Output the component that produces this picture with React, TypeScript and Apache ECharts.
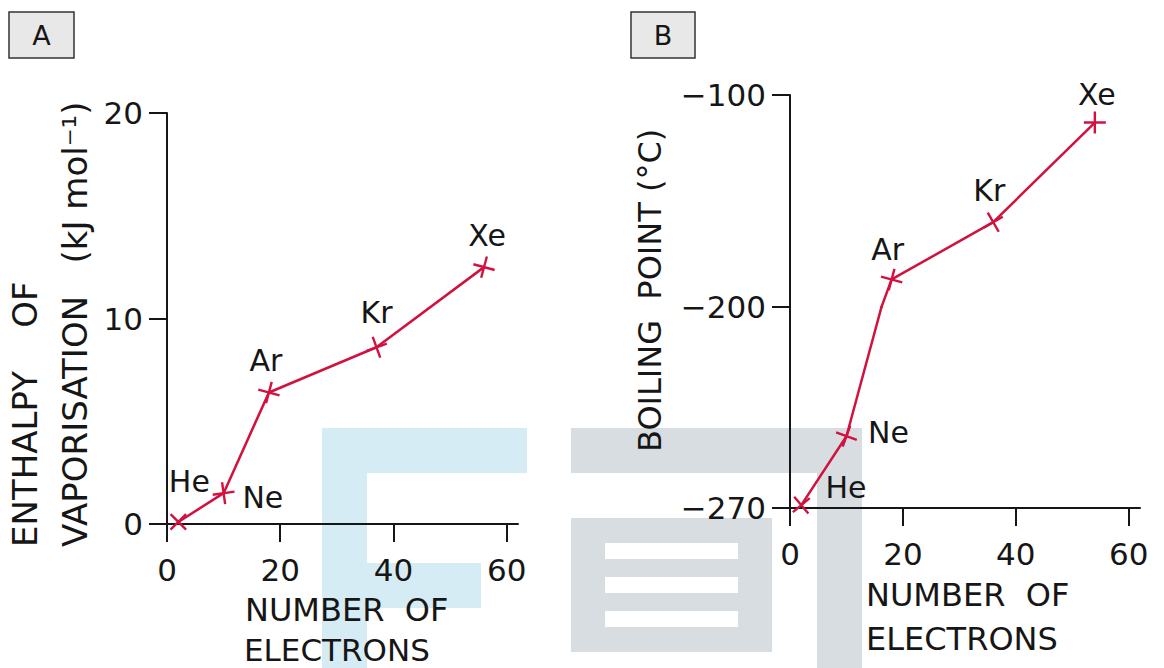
import React, { useEffect, useRef } from "react";
import * as echarts from "echarts";

// ---- data ----
const elements = ["He", "Ne", "Ar", "Kr", "Xe"];
const electronsA = [2, 10, 18, 37, 56];
const enthalpyA = [0.1, 1.5, 6.4, 8.6, 12.5];
const electronsB = [2, 10, 18, 36, 54];
const boilingB = [-269, -245, -187, -160, -113];
const xTicks = [0, 20, 40, 60];
const enthalpyTicks = [0, 10, 20];
const boilingTicksUpper = [-200, -100];
const boilingTicksLower = [-270];

// ---- styling config ----
const RED = "#d1123f";
const INK = "#161616";
const FONT = '"DejaVu Sans", sans-serif';
const labelPosA = ["top", "right", "top", "top", "top"];
const labelOffA = [[11, -3], [0, 4], [-3, 3], [0, 1], [3, 3]];
const rotA = [45, 8, -15, 20, -15];
const labelPosB = ["right", "right", "top", "top", "top"];
const labelOffB = [[2, -18], [1, -4], [-4, 5], [-4, 5], [2, 4]];
const rotB = [40, -20, -15, 30, 0];
const CROSS = "path://M0,10L20,10M10,0L10,20";

function buildData(xs: number[], ys: number[], pos: string[], off: number[][], rot: number[]) {
  return xs.map((x, i) => ({
    name: elements[i],
    value: [x, ys[i]],
    symbolRotate: rot[i],
    label: { position: pos[i], offset: off[i] },
  }));
}

const minusFmt = (v: number) => (v < 0 ? "\u2212" + Math.abs(v) : String(v));

function xAxisCfg(gridIndex: number, show: boolean) {
  return {
    type: "value",
    gridIndex,
    show,
    min: 0,
    max: 62,
    interval: 20,
    axisLine: { show: true, onZero: false, lineStyle: { color: INK, width: 2 } },
    axisTick: { show: true, customValues: xTicks, length: 18, lineStyle: { color: INK, width: 2 } },
    axisLabel: { customValues: xTicks, fontSize: 31, fontFamily: FONT, color: INK, margin: 30 },
    splitLine: { show: false },
  };
}

function yAxisCfg(gridIndex: number, min: number, max: number, ticks: number[]) {
  return {
    type: "value",
    gridIndex,
    min,
    max,
    axisLine: { show: true, onZero: false, lineStyle: { color: INK, width: 2 } },
    axisTick: { show: true, customValues: ticks, length: 18, lineStyle: { color: INK, width: 2 } },
    axisLabel: { customValues: ticks, fontSize: 31, fontFamily: FONT, color: INK, margin: 24, formatter: minusFmt },
    splitLine: { show: false },
  };
}

function seriesCfg(xi: number, yi: number, data: any[], clip: boolean) {
  return {
    type: "line",
    xAxisIndex: xi,
    yAxisIndex: yi,
    data,
    clip,
    symbol: CROSS,
    symbolSize: 22,
    lineStyle: { color: RED, width: 2.5 },
    itemStyle: { color: RED, borderColor: RED, borderWidth: 2.4 },
    label: {
      show: true,
      formatter: (p: any) => p.name,
      fontSize: 30,
      fontFamily: FONT,
      color: INK,
    },
    emphasis: { disabled: true },
  };
}

function txt(text: string, x: number, y: number, size: number, align: string, rotated: boolean) {
  return {
    type: "text",
    x,
    y,
    rotation: rotated ? Math.PI / 2 : 0,
    silent: true,
    style: {
      text,
      fill: INK,
      fontSize: size,
      fontFamily: FONT,
      align,
      verticalAlign: "middle",
      lineHeight: 24,
    },
  };
}

const BLUE_WM = "#d6ecf5";
const GREY_WM = "#d8dde2";
const wm = (x: number, y: number, w: number, h: number, fill: string) => ({
  type: "rect",
  silent: true,
  z: -10,
  shape: { x, y, width: w, height: h },
  style: { fill },
});

export default function App() {
  const ref = useRef<HTMLDivElement>(null);
  useEffect(() => {
    const chart = echarts.init(ref.current!, null, { renderer: "svg" });
    const option: any = {
      animation: false,
      backgroundColor: "#ffffff",
      grid: [
        { left: 167, top: 113, width: 351, height: 411, outerBoundsMode: "none", containLabel: false },
        { left: 790, top: 95, width: 350, height: 212, outerBoundsMode: "none", containLabel: false },
        { left: 790, top: 307, width: 350, height: 201, outerBoundsMode: "none", containLabel: false },
      ],
      xAxis: [xAxisCfg(0, true), xAxisCfg(1, false), xAxisCfg(2, true)],
      yAxis: [
        { ...yAxisCfg(0, 0, 20, enthalpyTicks), interval: 10 },
        { ...yAxisCfg(1, -200, -100, boilingTicksUpper), interval: 100 },
        yAxisCfg(2, -270, -200, boilingTicksLower),
      ],
      series: [
        seriesCfg(0, 0, buildData(electronsA, enthalpyA, labelPosA, labelOffA, rotA), false),
        seriesCfg(1, 1, buildData(electronsB, boilingB, labelPosB, labelOffB, rotB), true),
        seriesCfg(2, 2, buildData(electronsB, boilingB, labelPosB, labelOffB, rotB), true),
      ],
      graphic: {
        elements: [
          // watermark
          wm(322, 428, 45, 240, BLUE_WM),
          wm(322, 428, 205, 45, BLUE_WM),
          wm(322, 563, 159, 45, BLUE_WM),
          wm(571, 428, 291, 45, GREY_WM),
          wm(817, 428, 45, 240, GREY_WM),
          wm(571, 518, 201, 134, GREY_WM),
          wm(605, 543, 133, 16, "#ffffff"),
          wm(605, 577, 133, 16, "#ffffff"),
          wm(605, 611, 133, 16, "#ffffff"),
          // panel boxes
          {
            type: "rect",
            silent: true,
            shape: { x: 9, y: 12, width: 65, height: 46 },
            style: { fill: "#e8e8e8", stroke: "#333", lineWidth: 1.5 },
          },
          txt("A", 41.5, 35, 27, "center", false),
          {
            type: "rect",
            silent: true,
            shape: { x: 631, y: 12, width: 64, height: 46 },
            style: { fill: "#e8e8e8", stroke: "#333", lineWidth: 1.5 },
          },
          txt("B", 663, 35, 27, "center", false),
          // axis titles
          txt("ENTHALPY    OF", 25, 547, 34, "left", true),
          txt("VAPORISATION   (kJ mol\u207B\u00B9)", 75, 547, 34, "left", true),
          txt("NUMBER  OF", 245, 610, 32, "left", false),
          txt("ELECTRONS", 244, 650, 31, "left", false),
          txt("BOILING  POINT (\u00B0C)", 650, 452, 32, "left", true),
          txt("NUMBER  OF", 866, 595, 32, "left", false),
          txt("ELECTRONS", 866, 639, 32, "left", false),
        ],
      },
    };
    chart.setOption(option);
    return () => chart.dispose();
  }, []);
  return (
    <div
      ref={ref}
      style={{ position: "fixed", left: 0, top: 0, width: "1164px", height: "668px", background: "#fff" }}
    />
  );
}
